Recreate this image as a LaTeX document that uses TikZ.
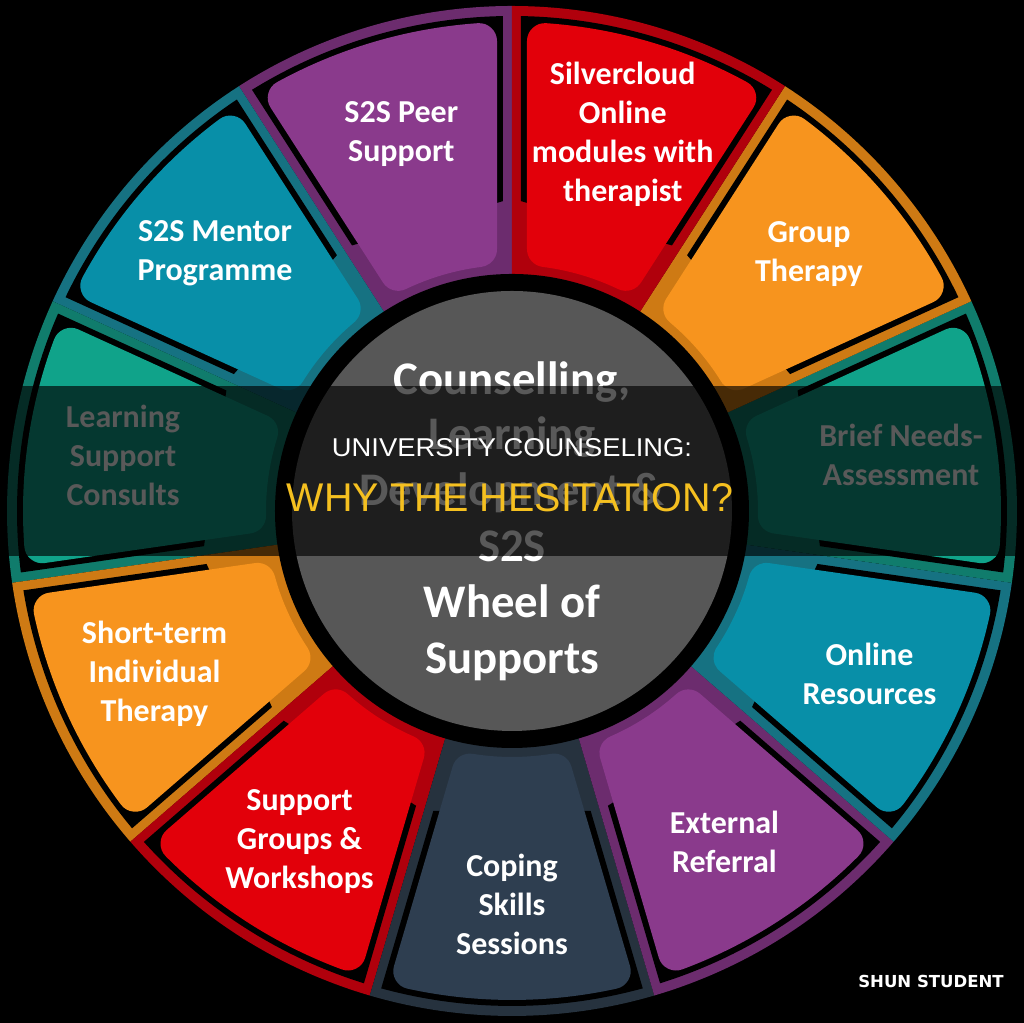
\documentclass[tikz,border=0pt]{standalone}
\usepackage{graphicx}
\usepackage{fontspec}
\setmainfont{Carlito}
\newfontfamily\bannerfont{Liberation Sans}
\newfontfamily\markfont{DejaVu Sans}
\usetikzlibrary{calc}

\definecolor{purplepanel}{RGB}{138,58,140}
\definecolor{purpleband}{RGB}{108,44,110}
\definecolor{bluepanel}{RGB}{8,143,168}
\definecolor{blueband}{RGB}{22,114,130}
\definecolor{greenpanel}{RGB}{16,163,138}
\definecolor{greenband}{RGB}{16,124,108}
\definecolor{orangepanel}{RGB}{247,148,30}
\definecolor{orangeband}{RGB}{206,122,20}
\definecolor{redpanel}{RGB}{226,0,10}
\definecolor{redband}{RGB}{176,0,12}
\definecolor{slatepanel}{RGB}{46,62,80}
\definecolor{slateband}{RGB}{38,50,62}
\definecolor{hubgray}{RGB}{87,87,87}
\definecolor{bannergold}{RGB}{245,192,32}

\begin{document}
\begin{tikzpicture}[
  seglabel/.style={text=white, align=center, font=\bfseries\fontsize{9.1}{11.1}\selectfont},
  hublabel/.style={text=white, align=center, font=\bfseries\fontsize{13.3}{15.9}\selectfont}]
\useasboundingbox (-5.12,-5.12) rectangle (5.12,5.11);
\fill[black] (-5.12,-5.12) rectangle (5.12,5.11);

% the eleven segments, counter-clockwise from the top
\foreach \k/\pc/\bc/\txt in {
  0/purplepanel/purpleband/{S2S Peer\\Support},
  1/bluepanel/blueband/{S2S Mentor\\Programme},
  2/greenpanel/greenband/{Learning\\Support\\Consults},
  3/orangepanel/orangeband/{Short-term\\Individual\\Therapy},
  4/redpanel/redband/{Support\\Groups \&\\Workshops},
  5/slatepanel/slateband/{Coping\\Skills\\Sessions},
  6/purplepanel/purpleband/{External\\Referral},
  7/bluepanel/blueband/{Online\\Resources},
  8/greenpanel/greenband/{Brief Needs-\\Assessment},
  9/orangepanel/orangeband/{Group\\Therapy},
  10/redpanel/redband/{Silvercloud\\Online\\modules with\\therapist}} {
  \pgfmathsetmacro{\a}{90+\k*360/11}
  \pgfmathsetmacro{\b}{\a+360/11}
  \pgfmathsetmacro{\m}{\a+180/11}
  % band
  \fill[\bc] (\a:2.3) -- (\a:5.05) arc[start angle=\a, end angle=\b, radius=5.05]
    -- (\b:2.3) arc[start angle=\b, end angle=\a, radius=2.3] -- cycle;
  % shadow
  \fill[black] ({\a+asin(0.09/3.1)}:3.1) -- ({\a+asin(0.09/4.95)}:4.95)
    arc[start angle={\a+asin(0.09/4.95)}, end angle={\b-asin(0.09/4.95)}, radius=4.95]
    -- ({\b-asin(0.09/3.1)}:3.1) -- cycle;
  % panel, corners rounded by the round-joined stroke
  \filldraw[\pc, line width=0.36cm, line join=round]
    ({\a+asin(0.33/2.64)}:2.64) -- ({\a+asin(0.33/4.71)}:4.71)
    arc[start angle={\a+asin(0.33/4.71)}, end angle={\b-asin(0.33/4.71)}, radius=4.71]
    -- ({\b-asin(0.33/2.64)}:2.64)
    arc[start angle={\b-asin(0.33/2.64)}, end angle={\a+asin(0.33/2.64)}, radius=2.64] -- cycle;
  \node[seglabel] (seg\k) at (\m:3.93) {\txt};
}

% hub
\fill[black] (0,0) circle (2.37);
\node[circle, fill=hubgray, inner sep=0pt, minimum size=4.40cm] (hub) at (0,0) {};
\node[hublabel] (hubtext) at (0,-0.10) {Counselling,\\Learning\\Development \&\\S2S\\Wheel of\\Supports};

% title banner
\node[fill=black, fill opacity=0.65, inner sep=0pt, minimum width=10.24cm, minimum height=1.70cm] (banner) at (0,0.40) {};
\node[text=white, inner sep=0pt] (bannertop) at (0,0.63)
  {\resizebox{3.60cm}{0.18cm}{\bannerfont UNIVERSITY COUNSELING:}};
\node[text=bannergold, inner sep=0pt] (bannerbottom) at (-0.02,0.13)
  {\resizebox{4.46cm}{0.28cm}{\bannerfont WHY THE HESITATION?}};

\node[text=white, inner sep=0pt, font=\markfont\bfseries\fontsize{4.7}{5.5}\selectfont] (brand) at (4.19,-4.71) {SHUN STUDENT};
\end{tikzpicture}
\end{document}
